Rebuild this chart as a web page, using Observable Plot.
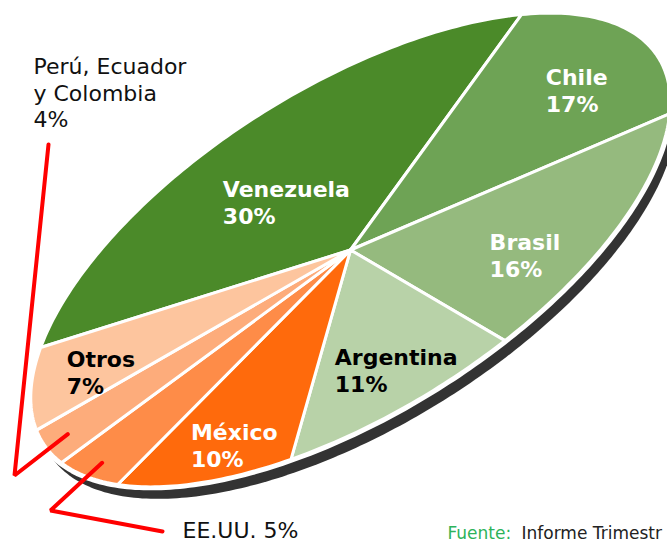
<!DOCTYPE html>
<html><head><meta charset="utf-8">
<script src="https://cdn.jsdelivr.net/npm/d3@7"></script>
<script src="https://cdn.jsdelivr.net/npm/@observablehq/plot@0.6"></script>
<style>html,body{margin:0;padding:0;background:#fff}svg{display:block}</style>
</head><body><div id="chart"></div>
<script>
// ---- data ----
const countries = ["Venezuela", "Chile", "Brasil", "Argentina", "México", "EE.UU.", "Perú, Ecuador y Colombia", "Otros"];
const shares = [30, 17, 16, 11, 10, 5, 4, 7];
const sourceLabel = "Fuente:";
const sourceText = "Informe Trimestr";

// ---- styles (kept apart from the data) ----
const sliceColors = ["#4b8a29", "#6ea355", "#95ba7e", "#b8d2a8", "#ff6a0c", "#fe8c48", "#fdac7b", "#fdc59e"];
const labelInk = {"Venezuela": "#ffffff", "Chile": "#ffffff", "Brasil": "#ffffff", "Argentina": "#000000", "México": "#ffffff", "Otros": "#000000"};
const insideLabels = ["Venezuela", "Chile", "Brasil", "Argentina", "México", "Otros"];
const labelNudge = {"Venezuela": [-45, 10], "Chile": [-4, -33], "Brasil": [-50, -1], "Argentina": [-51, -16], "México": [-52, 7], "Otros": [-60, -2]};

// ---- layout: a tilted elliptical pie ----
const W = 667, H = 543;
const cx = 350, cy = 249.5, RA = 363, RB = 163;
const tilt = -32 * Math.PI / 180, phi0 = 210 * Math.PI / 180;
const ux = Math.cos(tilt), uy = Math.sin(tilt), vx = -Math.sin(tilt), vy = Math.cos(tilt);
function pt(phi, r = 1, ox = 0, oy = 0) {
  const p = RA * r * Math.cos(phi), q = RB * r * Math.sin(phi);
  return {x: cx + ox + p * ux + q * vx, y: cy + oy + p * uy + q * vy};
}
const arcs = d3.pie().sort(null).startAngle(phi0).endAngle(phi0 + 2 * Math.PI)(shares);

const slicePts = [];
arcs.forEach((a, i) => {
  const name = countries[i];
  slicePts.push({name, x: cx, y: cy});
  const n = Math.max(2, Math.ceil((a.endAngle - a.startAngle) / (Math.PI / 180)));
  for (let k = 0; k <= n; k++) {
    const p = pt(a.startAngle + (a.endAngle - a.startAngle) * k / n);
    slicePts.push({name, ...p});
  }
});
const colorOf = Object.fromEntries(countries.map((c, i) => [c, sliceColors[i]]));

const ring = d3.range(0, 361).map(d => pt(d * Math.PI / 180));
const shadow = d3.range(0, 361).map(d => pt(d * Math.PI / 180, 1, 7, 12));

const mid = a => (a.startAngle + a.endAngle) / 2;
const labels = arcs.map((a, i) => ({a, name: countries[i], share: shares[i]}))
  .filter(d => insideLabels.includes(d.name))
  .map(d => {
    const p = pt(mid(d.a), 0.7);
    const [nx, ny] = labelNudge[d.name];
    return {x: p.x + nx, y: p.y + ny, text: `${d.name}\n${d.share}%`, ink: labelInk[d.name]};
  });

// outside labels with red leader lines
const iUS = countries.indexOf("EE.UU."), iPE = countries.indexOf("Perú, Ecuador y Colombia");
const tipPE = pt(mid(arcs[iPE]), 0.93), tipUS = pt(mid(arcs[iUS]), 0.94);
const outside = [
  {x: 33, y: 55, text: "Perú, Ecuador\ny Colombia\n" + shares[iPE] + "%"},
  {x: 182, y: 519, text: "EE.UU. " + shares[iUS] + "%"}
];
const leaders = [
  {name: "pe", x: 48, y: 144}, {name: "pe", x: 14, y: 475}, {name: "pe", ...tipPE},
  {name: "us", x: 162, y: 531}, {name: "us", x: 50, y: 510}, {name: "us", ...tipUS}
];

const font = "DejaVu Sans, Verdana, sans-serif";
const chart = Plot.plot({
  width: W, height: H,
  margin: 0,
  x: {domain: [0, W], range: [0, W], axis: null},
  y: {domain: [0, H], range: [0, H], axis: null},
  style: {fontFamily: font, background: "#fff", overflow: "hidden"},
  marks: [
    Plot.line(shadow, {x: "x", y: "y", fill: "#333333", stroke: "none", curve: "linear-closed"}),
    Plot.line(ring, {x: "x", y: "y", fill: "#ffffff", stroke: "#ffffff", strokeWidth: 7, curve: "linear-closed"}),
    Plot.line(slicePts, {x: "x", y: "y", z: "name", fill: d => colorOf[d.name], stroke: "#ffffff", strokeWidth: 3, strokeLinejoin: "round", curve: "linear-closed"}),
    Plot.line(leaders, {x: "x", y: "y", z: "name", stroke: "#ff0000", strokeWidth: 4, strokeLinejoin: "miter"}),
    Plot.text(labels, {x: "x", y: "y", text: "text", fill: d => d.ink, textAnchor: "start", lineAnchor: "top", lineHeight: 1.23, fontSize: 22, fontWeight: "bold", fontFamily: font}),
    Plot.text(outside, {x: "x", y: "y", text: "text", fill: "#111111", textAnchor: "start", lineAnchor: "top", lineHeight: 1.2, fontSize: 22, fontFamily: font}),
    Plot.text([sourceLabel], {x: 447, y: 526, text: d => d, fill: "#2db35a", textAnchor: "start", lineAnchor: "top", fontSize: 17, fontFamily: font}),
    Plot.text([sourceText], {x: 521, y: 526, text: d => d, fill: "#222222", textAnchor: "start", lineAnchor: "top", fontSize: 17, fontFamily: font})
  ]
});
document.getElementById("chart").appendChild(chart);
</script>
</body></html>
